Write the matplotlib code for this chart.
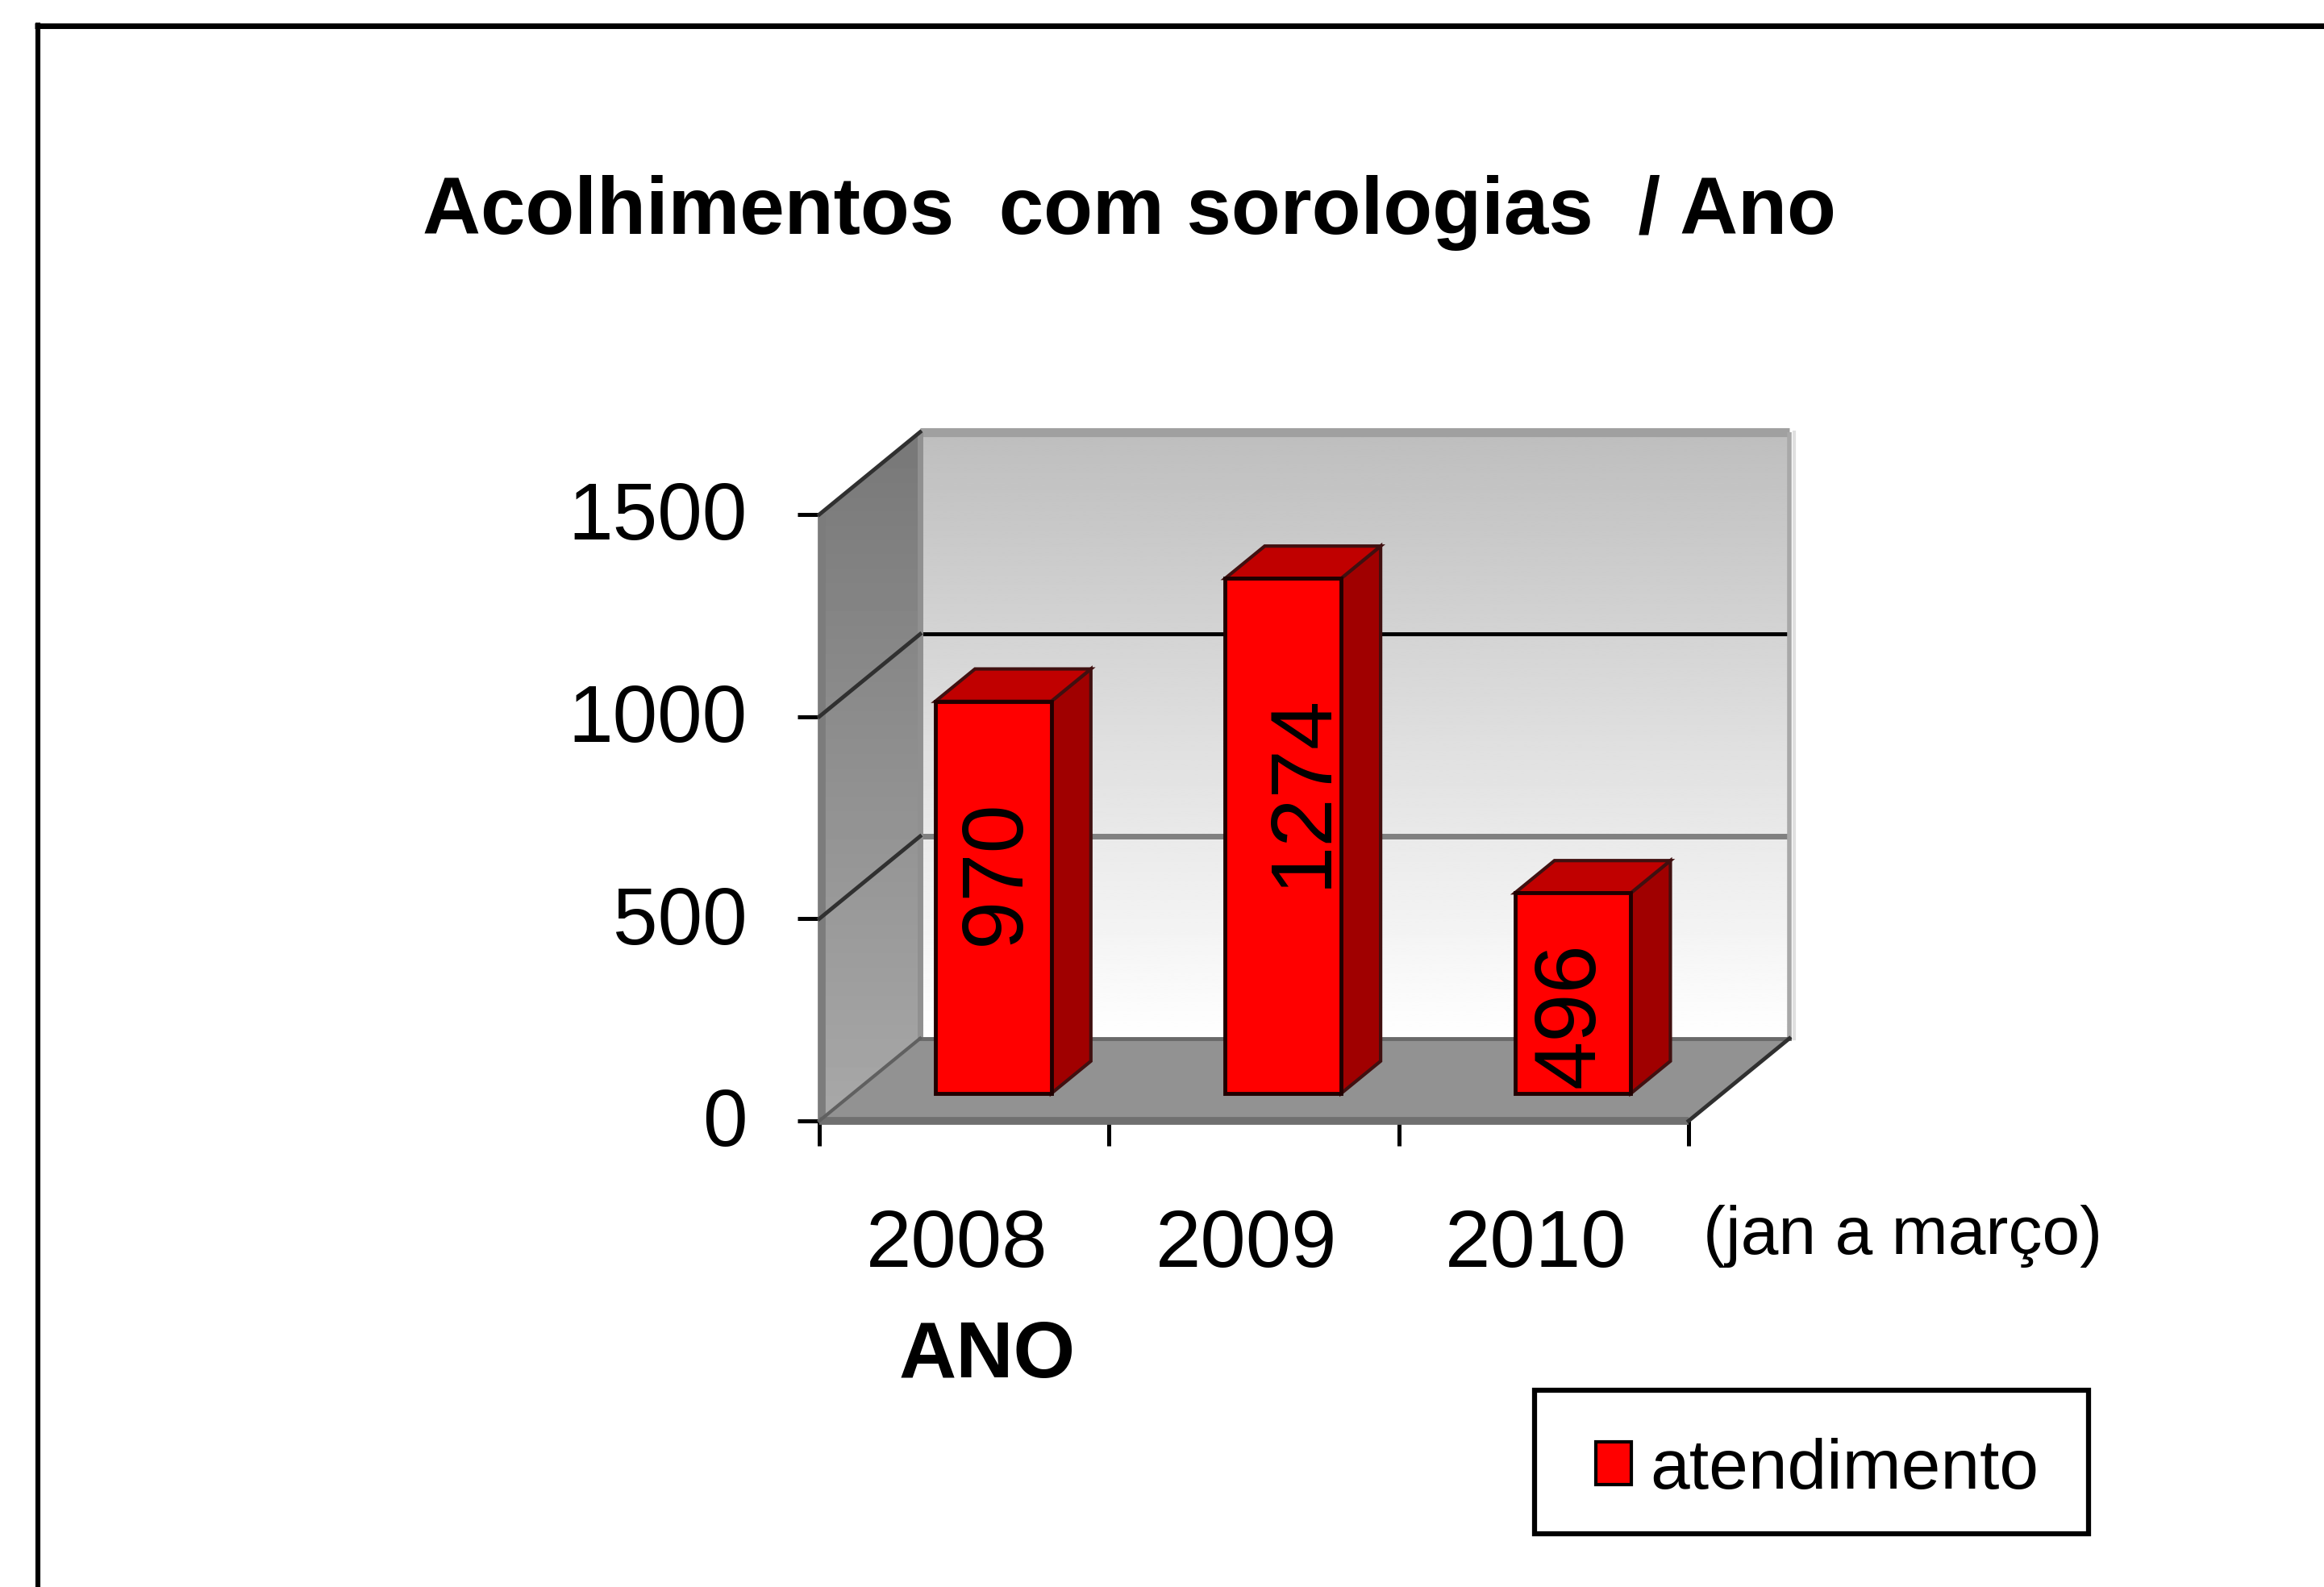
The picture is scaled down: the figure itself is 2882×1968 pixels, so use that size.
import numpy as np
import matplotlib
matplotlib.use("Agg")
import matplotlib.pyplot as plt
from matplotlib.patches import Polygon, Patch, Rectangle
from matplotlib.lines import Line2D
from matplotlib.transforms import Affine2D, blended_transform_factory

# ---- data ----
CATEGORIES = ["2008", "2009", "2010"]
VALUES = [970, 1274, 496]
Y_TICKS = [0, 500, 1000, 1500]
SERIES_NAME = "atendimento"
TITLE = "Acolhimentos  com sorologias  / Ano"
X_LABEL = "ANO"
NOTE = "(jan a março)"

# ---- layout ----
W, H = 2882, 1968
DEPTH_X = 0.348      # depth of the box, in category units
DEPTH_Y = 204.0      # depth of the box, in value units
BAR_CENTER = 0.485
BAR_WIDTH = 0.40
BAR_Z0, BAR_Z1 = 0.333, 0.725
FONT = "Liberation Sans"
LABEL_PX = [(1264, 1082), (1644, 980), (1977, 1259)]

fig = plt.figure(figsize=(W / 100, H / 100), dpi=100, facecolor="white")
PX = Affine2D().scale(1 / W, -1 / H).translate(0, 1) + fig.transFigure
ax = fig.add_axes([1016 / W, 1 - 1390 / H, (2094 - 1016) / W, (1390 - 638) / H])
ax.set_xlim(0, len(CATEGORIES))
ax.set_ylim(0, 1500)
ax.patch.set_visible(False)
for s in ax.spines.values():
    s.set_visible(False)


def P(x, y, z):
    return (x + z * DEPTH_X, y + z * DEPTH_Y)


n = len(CATEGORIES)
top = Y_TICKS[-1]


def gradient(poly, c_top, c_bot, zorder):
    xs, ys = zip(*poly)
    g = np.linspace(c_top, c_bot, 256).reshape(-1, 1)
    im = ax.imshow(g, cmap="gray", vmin=0, vmax=1, aspect="auto",
                   extent=(min(xs), max(xs), min(ys), max(ys)),
                   zorder=zorder, interpolation="bilinear")
    im.set_clip_box(fig.bbox)
    im.set_clip_path(Polygon(poly, closed=True, transform=ax.transData))
    im.set_clip_box(fig.bbox)


# back wall
back = [P(0, 0, 1), P(n, 0, 1), P(n, top, 1), P(0, top, 1)]
gradient(back, 0xBE / 255, 1.0, 1)
# left wall
left = [P(0, 0, 0), P(0, 0, 1), P(0, top, 1), P(0, top, 0)]
gradient(left, 0x78 / 255, 0xA8 / 255, 2)
# floor
ax.add_patch(Polygon([P(0, 0, 0), P(n, 0, 0), P(n, 0, 1), P(0, 0, 1)],
                     closed=True, fc="#929292", ec="none", zorder=3, clip_on=False))

# box edges
ax.plot(*zip(P(0, top, 1), P(n, top, 1)), color="#a0a0a0", lw=8, zorder=2.5,
        clip_on=False, solid_capstyle="butt")
ax.plot(*zip(P(n, 0, 1), P(n, top, 1)), color="#a8a8a8", lw=4, zorder=2.5,
        clip_on=False, solid_capstyle="butt")
ax.plot(*zip(P(n, 0, 1), P(n, top, 1)), color="#e0e0e0", lw=3, zorder=2.4,
        clip_on=False, transform=ax.transData + Affine2D().translate(6, 0))
ax.plot(*zip(P(0, 0, 1), P(0, top, 1)), color="#909090", lw=5, zorder=2.6,
        clip_on=False, solid_capstyle="butt")
ax.plot(*zip(P(0, 0, 0), P(0, top, 0)), color="#7c7c7c", lw=7, zorder=3.2,
        clip_on=False, solid_capstyle="butt",
        transform=ax.transData + Affine2D().translate(3, 0))
ax.plot(*zip(P(0, 0, 1), P(n, 0, 1)), color="#6a6a6a", lw=3.5, zorder=3.1, clip_on=False)
ax.plot(*zip(P(0, 0, 0), P(n, 0, 0)), color="#707070", lw=7, zorder=3.3, clip_on=False,
        solid_capstyle="butt")

# gridlines on the back wall and their slants on the left wall
for v, col, lw in zip(Y_TICKS[1:], ["#808080", "#000000"], [5, 3.5]):
    ax.plot(*zip(P(0, v, 1), P(n, v, 1)), color=col, lw=lw, zorder=2.3,
            clip_on=False, solid_capstyle="butt")
for v in Y_TICKS[1:]:
    ax.plot(*zip(P(0, v, 0), P(0, v, 1)), color="#303030", lw=3.5, zorder=3.4, clip_on=False)
ax.plot(*zip(P(0, 0, 0), P(0, 0, 1)), color="#606060", lw=3, zorder=3.4, clip_on=False)
ax.plot(*zip(P(n, 0, 0), P(n, 0, 1)), color="#303030", lw=3.5, zorder=3.4, clip_on=False)

# bars
for i, v in enumerate(VALUES):
    x0 = i + BAR_CENTER - BAR_WIDTH / 2
    x1 = x0 + BAR_WIDTH
    zo = 5 + i
    front = [P(x0, 0, BAR_Z0), P(x1, 0, BAR_Z0), P(x1, v, BAR_Z0), P(x0, v, BAR_Z0)]
    side = [P(x1, 0, BAR_Z0), P(x1, 0, BAR_Z1), P(x1, v, BAR_Z1), P(x1, v, BAR_Z0)]
    lid = [P(x0, v, BAR_Z0), P(x1, v, BAR_Z0), P(x1, v, BAR_Z1), P(x0, v, BAR_Z1)]
    ax.add_patch(Polygon(side, closed=True, fc="#a00000", ec="#401010", lw=3, zorder=zo, clip_on=False))
    ax.add_patch(Polygon(lid, closed=True, fc="#c00000", ec="#401010", lw=3, zorder=zo, clip_on=False))
    ax.add_patch(Polygon(front, closed=True, fc="#ff0000", ec="#200000", lw=3.5, zorder=zo + 0.1, clip_on=False))
    ax.text(LABEL_PX[i][0], LABEL_PX[i][1], str(v), transform=PX, rotation=90,
            rotation_mode="anchor", ha="center", va="baseline", family=FONT,
            fontsize=78, color="black", zorder=zo + 0.2)

# ticks
ax.set_yticks(Y_TICKS)
ax.set_yticklabels([str(t) for t in Y_TICKS], family=FONT, fontsize=72)
ax.tick_params(axis="y", length=19.5, width=3.6, pad=45, color="black")
for lab in ax.get_yticklabels():
    lab.set_transform(lab.get_transform() + Affine2D().translate(0, 5))
ax.set_xticks(range(n + 1))
ax.set_xticklabels([])
ax.tick_params(axis="x", length=22, width=3.6, color="black")

# category labels, in data x
tr = blended_transform_factory(ax.transData, PX)
for i, c in enumerate(CATEGORIES):
    ax.text(i + 0.474, 1571, c, transform=tr, ha="center", va="baseline",
            family=FONT, fontsize=73)
fig.text(2112, 1555, NOTE, transform=PX, ha="left", va="baseline", family=FONT, fontsize=60.5)
fig.text(1224, 1708, X_LABEL, transform=PX, ha="center", va="baseline", family=FONT,
         fontsize=71, fontweight="bold")
fig.text(524, 290, TITLE, transform=PX, ha="left", va="baseline", family=FONT,
         fontsize=71.8, fontweight="bold")

# legend: box drawn on its own, entry from the library
fig.add_artist(Rectangle((1903, 1724), 2590 - 1903, 1902 - 1724, transform=PX, fc="white",
                         ec="black", lw=4.5))
leg = fig.legend(handles=[Patch(fc="#ff0000", ec="black", lw=3, label=SERIES_NAME)],
                 loc="lower left", bbox_to_anchor=(1905 / W, 1 - 1938 / H),
                 prop={"family": FONT, "size": 63}, frameon=False,
                 borderaxespad=0, borderpad=0.85,
                 handlelength=0.5, handleheight=0.55, handletextpad=0.26)
leg.set_zorder(10)

# outer frame running off the picture
fig.add_artist(Line2D([46.5, 46.5], [28, H], transform=PX, color="black", lw=4.4,
                      solid_capstyle="butt"))
fig.add_artist(Line2D([43, W], [31.5, 31.5], transform=PX, color="black", lw=5,
                      solid_capstyle="butt"))

fig.savefig("out.png", dpi=100, facecolor="white")
